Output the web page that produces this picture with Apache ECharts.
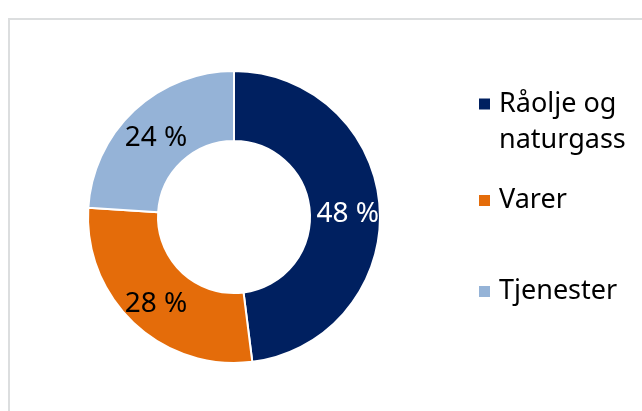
<!DOCTYPE html>
<html>
<head>
<meta charset="utf-8">
<script src="https://cdn.jsdelivr.net/npm/echarts@6/dist/echarts.min.js"></script>
<style>
  html, body { margin: 0; padding: 0; background: #fff; }
  #wrap { position: relative; width: 642px; height: 411px; overflow: hidden; }
  #frame { position: absolute; left: 8px; top: 18px; width: 700px; height: 500px;
           border-left: 2px solid #dcdedf; border-top: 2px solid #dcdedf; }
  #chart { position: absolute; left: 0; top: 0; width: 642px; height: 411px; }
</style>
</head>
<body>
<div id="wrap">
  <div id="frame"></div>
  <div id="chart"></div>
</div>
<script>
var categories = ['Råolje og\nnaturgass', 'Varer', 'Tjenester'];
var values = [48, 28, 24];
var colors = ['#002060', '#e46c0a', '#95b3d7'];
var labelColors = ['#fff', '#000', '#000'];

var fontFamily = '"Noto Sans", sans-serif';

var pieData = [];
for (var i = 0; i < categories.length; i++) {
  pieData.push({
    name: categories[i],
    value: values[i],
    itemStyle: { color: colors[i] },
    label: { color: labelColors[i] }
  });
}

// one legend per item, so each can sit where it is in the original
var legendTops = [63, 187, 278];
var legends = [];
for (var j = 0; j < categories.length; j++) {
  legends.push({
    data: [categories[j]],
    left: 477,
    top: legendTops[j],
    padding: 0,
    itemWidth: 13,
    itemHeight: 13,
    itemGap: 0,
    icon: 'rect',
    selectedMode: false,
    // first item wraps on two lines, marker stays on the first one:
    // a blank line on top keeps the text block centred one line lower
    formatter: function (name) {
      var lines = name.split('\n');
      if (lines.length === 1) return '{t|' + name + '}';
      return '{s| }\n{t|' + lines.join('}\n{t|') + '}';
    },
    textStyle: {
      fontFamily: fontFamily,
      fontSize: 27,
      color: '#000',
      rich: {
        t: { fontFamily: fontFamily, fontSize: 27, lineHeight: 36, color: '#000', padding: [0, 0, 0, 3] },
        s: { fontSize: 10, lineHeight: 36 }
      }
    }
  });
}

var option = {
  animation: false,
  legend: legends,
  series: [
    {
      type: 'pie',
      center: [234, 217],
      radius: [76, 146],
      startAngle: 90,
      clockwise: true,
      avoidLabelOverlap: false,
      itemStyle: { borderColor: '#fff', borderWidth: 2 },
      label: {
        show: true,
        position: 'inside',
        fontFamily: fontFamily,
        fontSize: 28,
        offset: [0, 4],
        formatter: function (p) { return p.value + ' %'; }
      },
      labelLine: { show: false },
      emphasis: { disabled: true },
      data: pieData
    }
  ]
};

var chart = echarts.init(document.getElementById('chart'));
chart.setOption(option);
</script>
</body>
</html>
